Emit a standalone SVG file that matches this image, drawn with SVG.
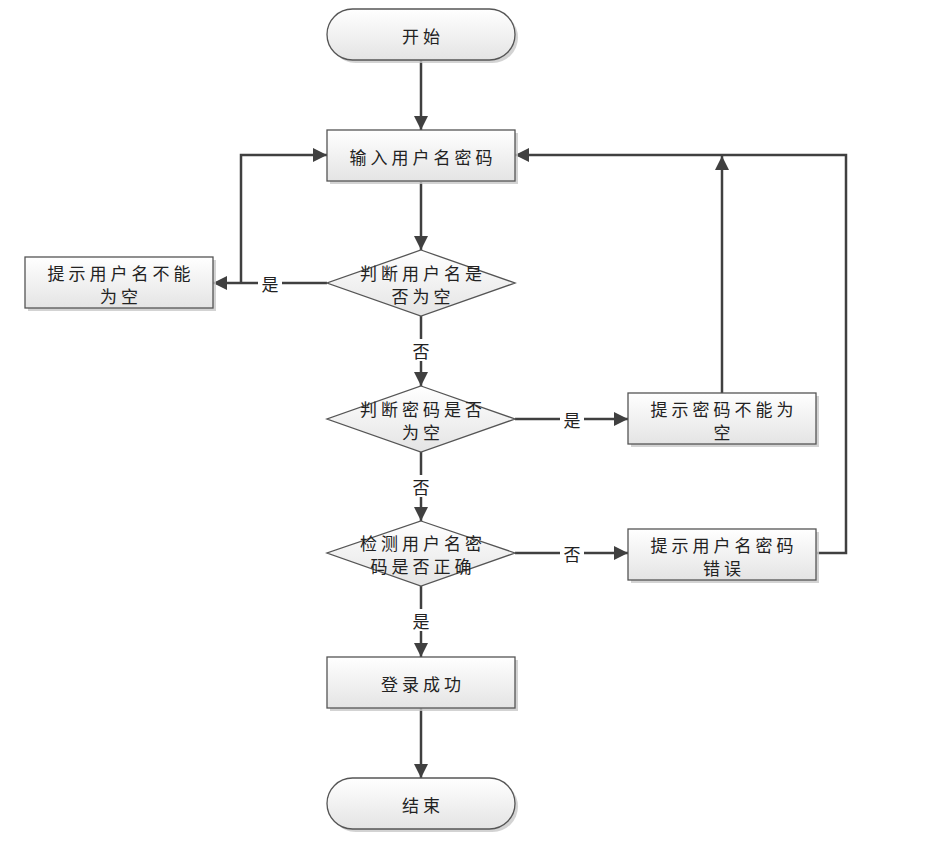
<svg xmlns="http://www.w3.org/2000/svg" width="937" height="841" viewBox="0 0 937 841">
<defs>
<linearGradient id="g" x1="0" y1="0" x2="0" y2="1">
<stop offset="0" stop-color="#ffffff"/>
<stop offset="1" stop-color="#e4e4e4"/>
</linearGradient>
<marker id="ah" markerWidth="14" markerHeight="14" refX="14" refY="7" orient="auto" markerUnits="userSpaceOnUse">
<path d="M0,0 L14,7 L0,14 z" fill="#404040"/>
</marker>
</defs>
<style>
.shape{fill:url(#g);stroke:#555;stroke-width:1.3}
.sh{fill:#c8c8c8;opacity:0.8}
.t{font-family:"Noto Sans CJK SC","Noto Sans",sans-serif;font-size:17px;fill:#222;text-anchor:middle;dominant-baseline:central;letter-spacing:4px}
.c{fill:none;stroke:#404040;stroke-width:2.5}
.a{marker-end:url(#ah)}
.lb{fill:#fff}
</style>
<rect width="937" height="841" fill="#fff"/>
<g id="connectors">
<line class="c a" x1="421" y1="60" x2="421" y2="130"/>
<line class="c a" x1="421" y1="182" x2="421" y2="250"/>
<line class="c a" x1="327" y1="283" x2="213" y2="283"/>
<polyline class="c a" points="241,283 241,155 327,155"/>
<line class="c a" x1="421" y1="316" x2="421" y2="386"/>
<line class="c a" x1="515" y1="419" x2="628" y2="419"/>
<line class="c a" x1="722" y1="393" x2="722" y2="156"/>
<line class="c a" x1="421" y1="452" x2="421" y2="521"/>
<line class="c a" x1="515" y1="553" x2="628" y2="553"/>
<polyline class="c a" points="817,553 846,553 846,155 515,155"/>
<line class="c a" x1="421" y1="586" x2="421" y2="657"/>
<line class="c a" x1="421" y1="708" x2="421" y2="778"/>
<rect class="lb" x="258" y="272" width="24" height="22"/>
<text class="t" x="272" y="283">是</text>
<rect class="lb" x="409" y="339" width="24" height="22"/>
<text class="t" x="423" y="350">否</text>
<rect class="lb" x="560" y="408" width="24" height="22"/>
<text class="t" x="574" y="419">是</text>
<rect class="lb" x="409" y="475" width="24" height="22"/>
<text class="t" x="423" y="486">否</text>
<rect class="lb" x="560" y="542" width="24" height="22"/>
<text class="t" x="574" y="553">否</text>
<rect class="lb" x="409" y="609" width="24" height="22"/>
<text class="t" x="423" y="620">是</text>
</g>
<g id="start">
<rect class="sh" x="330" y="12" width="188" height="51" rx="25.5"/>
<rect class="shape" x="327" y="9" width="188" height="51" rx="25.5"/>
<text class="t" x="423" y="35">开始</text>
</g>
<g id="input">
<rect class="sh" x="330" y="133" width="188" height="51"/>
<rect class="shape" x="327" y="130" width="188" height="51"/>
<text class="t" x="423" y="156">输入用户名密码</text>
</g>
<g id="check-user">
<polygon class="shape" points="421,250 515,283 421,316 327,283"/>
<text class="t" x="423" y="272">判断用户名是</text>
<text class="t" x="423" y="295">否为空</text>
</g>
<g id="user-empty">
<rect class="sh" x="28" y="260" width="188" height="51"/>
<rect class="shape" x="25" y="257" width="188" height="51"/>
<text class="t" x="121" y="272">提示用户名不能</text>
<text class="t" x="121" y="295">为空</text>
</g>
<g id="check-pass">
<polygon class="shape" points="421,386 515,419 421,452 327,419"/>
<text class="t" x="423" y="408">判断密码是否</text>
<text class="t" x="423" y="431">为空</text>
</g>
<g id="pass-empty">
<rect class="sh" x="631" y="396" width="188" height="51"/>
<rect class="shape" x="628" y="393" width="188" height="51"/>
<text class="t" x="724" y="408">提示密码不能为</text>
<text class="t" x="724" y="431">空</text>
</g>
<g id="verify">
<polygon class="shape" points="421,521 515,553 421,586 327,553"/>
<text class="t" x="423" y="542">检测用户名密</text>
<text class="t" x="423" y="565">码是否正确</text>
</g>
<g id="wrong">
<rect class="sh" x="631" y="532" width="188" height="51"/>
<rect class="shape" x="628" y="529" width="188" height="51"/>
<text class="t" x="724" y="544">提示用户名密码</text>
<text class="t" x="724" y="567">错误</text>
</g>
<g id="success">
<rect class="sh" x="330" y="660" width="188" height="51"/>
<rect class="shape" x="327" y="657" width="188" height="51"/>
<text class="t" x="423" y="683">登录成功</text>
</g>
<g id="end">
<rect class="sh" x="330" y="781" width="188" height="51" rx="25.5"/>
<rect class="shape" x="327" y="778" width="188" height="51" rx="25.5"/>
<text class="t" x="423" y="804">结束</text>
</g>
</svg>
